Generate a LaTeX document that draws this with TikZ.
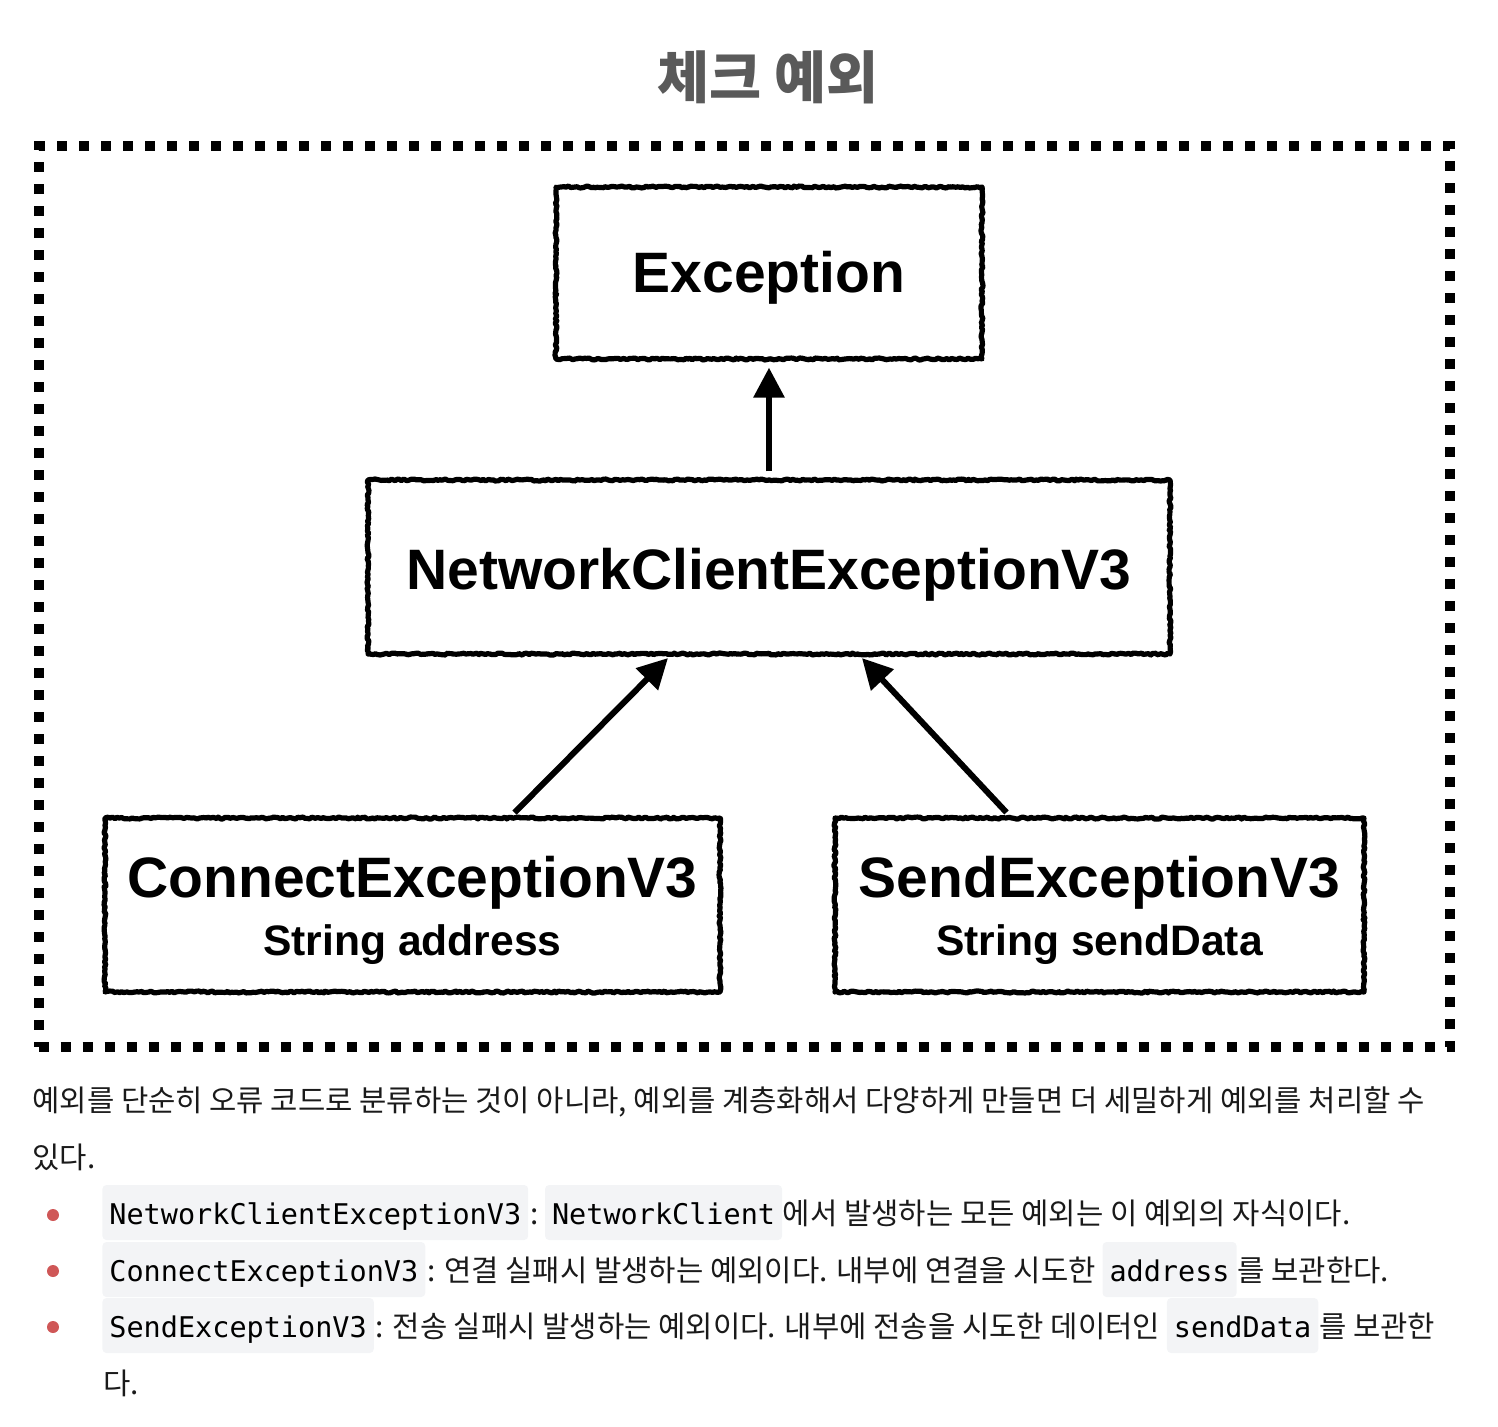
\documentclass[tikz,border=0pt]{standalone}
\usepackage{fontspec}
\setmainfont{Liberation Sans}
\newfontfamily\krfont{Noto Sans CJK KR}
\newfontfamily\codefont{DejaVu Sans Mono}
\usetikzlibrary{arrows.meta,calc,decorations.pathmorphing}
\definecolor{titlegray}{HTML}{5A5A5A}
\definecolor{bodytext}{HTML}{1A1A1A}
\definecolor{codebg}{HTML}{F3F4F6}
\definecolor{bulletred}{HTML}{CF5757}
\begin{document}
\begin{tikzpicture}[x=0.5pt,y=-0.5pt,
  sketchbox/.style={draw, line width=2.6pt, line join=round, decorate,
    decoration={random steps,segment length=1.2pt,amplitude=0.5pt},
    postaction={draw, line width=0.8pt, decorate,
      decoration={random steps,segment length=0.7pt,amplitude=0.9pt}},
    inner sep=0pt, align=center, font=\bfseries\fontsize{28.5}{29}\selectfont},
  inherit/.style={line width=3pt, -{Triangle[length=15pt,width=15pt]}},
  body/.style={font=\krfont\fontsize{14.85}{17}\selectfont, text=bodytext, inner sep=0pt, anchor=base west},
  code/.style={font=\codefont\fontsize{14.25}{16}\selectfont, fill=codebg, rounded corners=2pt,
    inner xsep=3.5pt, inner ysep=0pt, text height=19.5pt, text depth=8pt, anchor=base west, text=black},
  bullet/.style={circle, fill=bulletred, inner sep=0pt, minimum size=6pt}
]
\useasboundingbox (0,0) rectangle (1498,1426);

% title
\node[font=\krfont\bfseries\fontsize{28.3}{32}\selectfont, text=titlegray] (title) at (768,77) {체크 예외};

% dotted frame
\node[draw, line width=5pt, dash pattern=on 5pt off 6pt, minimum width=705.75pt, minimum height=450.5pt, inner sep=0pt] (frame) at (744.25,596.5) {};

% class boxes
\node[sketchbox, minimum width=213pt, minimum height=86pt] (exc) at (769,273) {\rule{0pt}{25.4pt}Exception};
\node[sketchbox, minimum width=401pt, minimum height=87pt] (ncx) at (769,567) {\rule{0pt}{28.4pt}NetworkClientExceptionV3};
\node[sketchbox, minimum width=307.5pt, minimum height=87pt] (cex) at (412.5,905)
  {\rule{0pt}{32.4pt}ConnectExceptionV3\\{\fontsize{21.3}{29}\selectfont String address\rule[-11pt]{0pt}{11pt}}};
\node[sketchbox, minimum width=264.5pt, minimum height=87pt] (sex) at (1099.5,905)
  {\rule{0pt}{32.4pt}SendExceptionV3\\{\fontsize{21.3}{29}\selectfont String sendData\rule[-11pt]{0pt}{11pt}}};

% inheritance arrows
\draw[inherit, shorten <=3pt, shorten >=3pt] (ncx.north) -- (exc.south);
\draw[inherit, shorten <=2pt, shorten >=1pt] ($(cex.north west)!0.66!(cex.north east)$) -- ($(ncx.south west)!0.3766!(ncx.south east)$);
\draw[inherit, shorten <=2pt, shorten >=1pt] ($(sex.north west)!0.331!(sex.north east)$) -- ($(ncx.south west)!0.6135!(ncx.south east)$);

% paragraph
\node[body] (p1) at (32,1111) {예외를 단순히 오류 코드로 분류하는 것이 아니라, 예외를 계층화해서 다양하게 만들면 더 세밀하게 예외를 처리할 수};
\node[body] (p2) at (32,1168) {있다.};

% bullet 1
\node[bullet] (b1) at (53,1215) {};
\node[code] (c11) at (102,1224) {NetworkClientExceptionV3};
\node[body, xshift=0.5pt] (t11) at (c11.base east) {:};
\node[code, xshift=3pt] (c12) at (t11.base east) {NetworkClient};
\node[body] (t12) at (c12.base east) {에서 발생하는 모든 예외는 이 예외의 자식이다.};

% bullet 2
\node[bullet] (b2) at (53,1271) {};
\node[code] (c21) at (102,1281) {ConnectExceptionV3};
\node[body, xshift=0.5pt] (t21) at (c21.base east) {: 연결 실패시 발생하는 예외이다. 내부에 연결을 시도한};
\node[code, xshift=3pt] (c22) at (t21.base east) {address};
\node[body] (t22) at (c22.base east) {를 보관한다.};

% bullet 3
\node[bullet] (b3) at (53,1327) {};
\node[code] (c31) at (102,1337) {SendExceptionV3};
\node[body, xshift=0.5pt] (t31) at (c31.base east) {: 전송 실패시 발생하는 예외이다. 내부에 전송을 시도한 데이터인};
\node[code, xshift=3pt] (c32) at (t31.base east) {sendData};
\node[body] (t32) at (c32.base east) {를 보관한};
\node[body] (t4) at (103,1394) {다.};
\end{tikzpicture}
\end{document}
